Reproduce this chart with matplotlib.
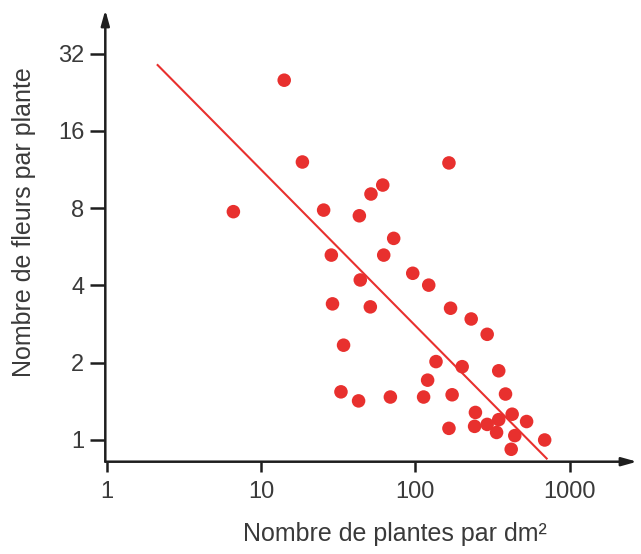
import matplotlib
matplotlib.use("Agg")
import matplotlib.pyplot as plt
import numpy as np

plt.rcParams['font.family'] = ['Liberation Sans', 'DejaVu Sans']

# plant density (plants per dm^2) and flowers per plant
density = [18.5, 165, 61.4, 51.5, 6.6, 25.4, 43.3, 72.3, 28.5, 62.3,
           96.1, 122, 43.9, 29.0, 51.0, 169, 230, 292, 34.2, 136,
           201, 347, 120, 32.9, 42.8, 68.8, 113, 173, 384, 245,
           424, 526, 165, 242, 292, 347, 336, 441, 689, 418, 14.1]
flowers = [12.1, 12.0, 9.84, 9.08, 7.75, 7.86, 7.47, 6.10, 5.25, 5.25,
           4.46, 4.01, 4.20, 3.39, 3.30, 3.26, 2.96, 2.58, 2.34, 2.02,
           1.93, 1.86, 1.71, 1.54, 1.42, 1.47, 1.47, 1.50, 1.51, 1.28,
           1.26, 1.18, 1.11, 1.13, 1.15, 1.20, 1.07, 1.04, 1.00, 0.92, 25.2]

# power-law fit: flowers = A * density ** B
fit_A = 45.7
fit_B = -0.6075
fit_range = [2.13, 710]

x_ticks = [1, 10, 100, 1000]
x_ticklabels = ['1', '10', '100', '1000']
y_ticks = [1, 2, 4, 8, 16, 32]
y_ticklabels = ['1', '2', '4', '8', '16', '32']

red = '#e8302e'
ink = '#1e1e1e'
text_c = '#3a3a3a'

fig = plt.figure(figsize=(6.41, 5.54), dpi=100)
W, H = 641, 554
x0, x1, ytop, ybot = 105.3, 637, 10, 461.7
ax = fig.add_axes([x0 / W, 1 - ybot / H, (x1 - x0) / W, (ybot - ytop) / H])
ax.set_xscale('log')
ax.set_yscale('log', base=2)
ax.set_xlim(0.975, 2735)
ax.set_ylim(0.823, 47.3)

for s in ax.spines.values():
    s.set_visible(False)

# axes drawn as arrows
arrow = dict(arrowstyle='-|>,head_length=0.9,head_width=0.25', lw=1.8,
             color=ink, shrinkA=0, shrinkB=0)
ax.annotate('', xy=(1.0, 0), xytext=(0, 0), xycoords='axes fraction',
            arrowprops=arrow, annotation_clip=False)
ax.annotate('', xy=(0, 1.0), xytext=(0, 0), xycoords='axes fraction',
            arrowprops=arrow, annotation_clip=False)

xs = np.array(fit_range)
ax.plot(xs, fit_A * xs ** fit_B, color=red, lw=1.5, zorder=2)
ax.scatter(density, flowers, s=95, color=red, edgecolors='none', zorder=3)

ax.set_xticks(x_ticks)
ax.set_xticklabels(x_ticklabels)
ax.set_yticks(y_ticks)
ax.set_yticklabels(y_ticklabels)
ax.minorticks_off()
ax.tick_params(axis='x', direction='out', length=7, width=1.8, color=ink,
               labelsize=17, labelcolor=text_c, pad=7)
ax.tick_params(axis='y', direction='out', length=11, width=1.8, color=ink,
               labelsize=17, labelcolor=text_c, pad=4)

ax.set_xlabel('Nombre de plantes par dm²', fontsize=18, color=text_c)
ax.set_ylabel('Nombre de fleurs par plante', fontsize=18, color=text_c)
ax.xaxis.set_label_coords((394.5 - x0) / (x1 - x0), (ybot - 522) / (ybot - ytop))
ax.yaxis.set_label_coords((36 - x0) / (x1 - x0), (ybot - 222) / (ybot - ytop))

fig.savefig('out.png', dpi=100)
